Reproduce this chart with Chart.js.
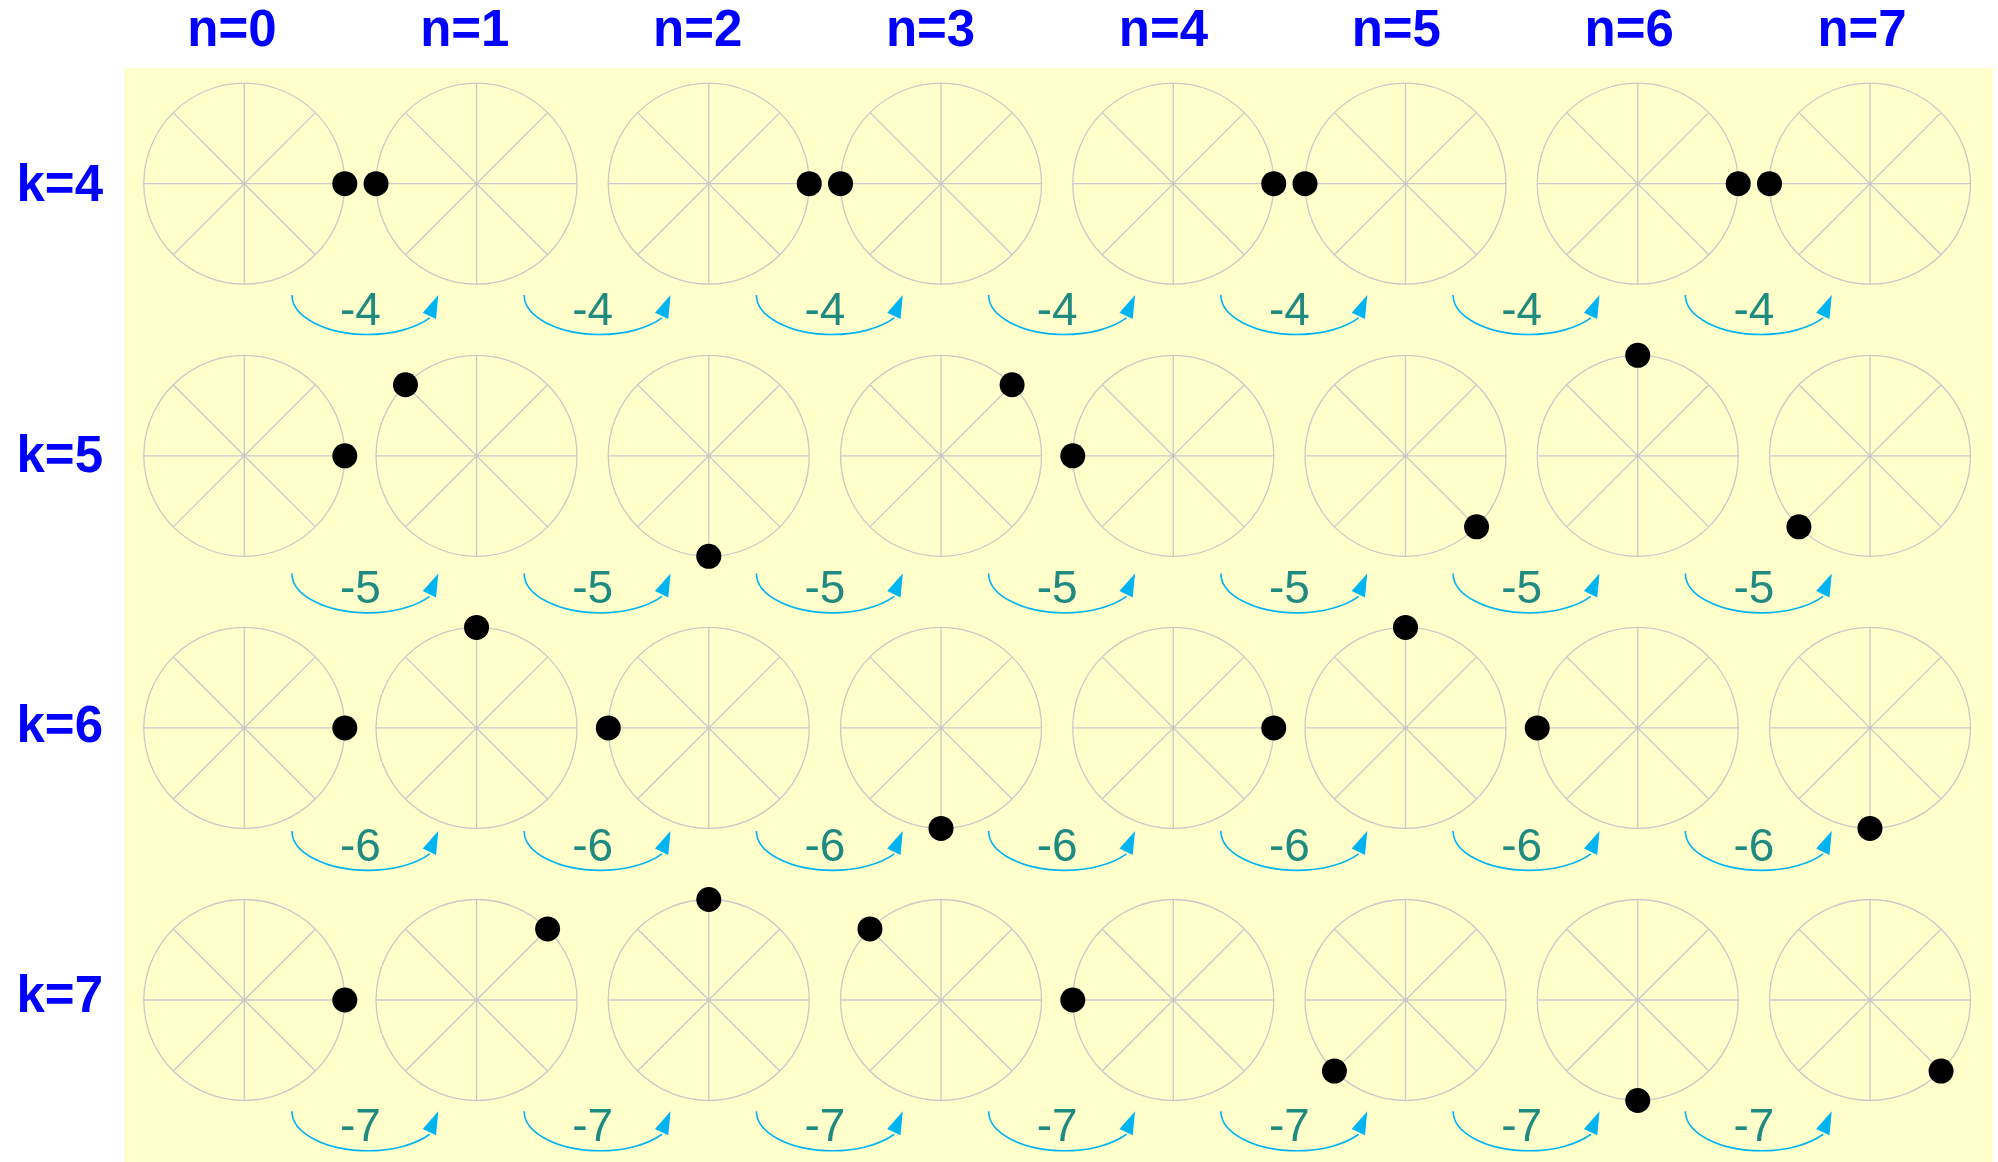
<!DOCTYPE html>
<html>
<head>
<meta charset="utf-8">
<title>Twiddle factor wheels</title>
<script src="https://cdn.jsdelivr.net/npm/chart.js@4.4.0/dist/chart.umd.min.js"></script>
<style>
  html, body { margin: 0; padding: 0; background: #fff; }
</style>
</head>
<body>
<canvas id="chart" width="1998" height="1162"></canvas>
<script>
// columns (n) and rows (k)
const nValues = [0, 1, 2, 3, 4, 5, 6, 7];
const kValues = [4, 5, 6, 7];

// where the black dot sits on each wheel, degrees counter-clockwise from 3 o'clock
const dotAngleK4 = [0, 180, 0, 180, 0, 180, 0, 180];
const dotAngleK5 = [0, 135, 270, 45, 180, 315, 90, 225];
const dotAngleK6 = [0, 90, 180, 270, 0, 90, 180, 270];
const dotAngleK7 = [0, 45, 90, 135, 180, 225, 270, 315];
const dotAngles = [dotAngleK4, dotAngleK5, dotAngleK6, dotAngleK7];

// text under the arrows, one per row
const stepLabels = ['-4', '-5', '-6', '-7'];

// layout (pixels)
const W = 1998, H = 1162;
const AREA_LEFT = 124, AREA_TOP = 68, AREA_RIGHT_PAD = 5;
const AREA_W = W - AREA_LEFT - AREA_RIGHT_PAD, AREA_H = H - AREA_TOP;
const COL_PITCH = 232.24, ROW_PITCH = 272.1;
const FIRST_COL_PX = 244.3, FIRST_ROW_PX = 183.7;
const RING_PX = 100.5, DOT_PX = 12.5;
// headers sit a little off the wheel grid
const HEAD_FIRST_PX = 231.9, HEAD_PITCH = 232.875;
const ROWLAB_FIRST_PX = 187.2, ROWLAB_PITCH = 270.27;
// the arrow rows are not quite evenly placed under the wheels
const ARROW_ROW_SHIFT = [0, 6.3, -8.3, 0];

function axisRange(firstPx, pitch, areaStart, areaLen, firstVal) {
  const min = firstVal - (firstPx - areaStart) / pitch;
  return { min: min, max: min + areaLen / pitch };
}

const xr = axisRange(FIRST_COL_PX, COL_PITCH, AREA_LEFT, AREA_W, nValues[0]);
const yr = axisRange(FIRST_ROW_PX, ROW_PITCH, AREA_TOP, AREA_H, kValues[0]);
const xnr = axisRange(HEAD_FIRST_PX, HEAD_PITCH, AREA_LEFT, AREA_W, nValues[0]);
const ykr = axisRange(ROWLAB_FIRST_PX, ROWLAB_PITCH, AREA_TOP, AREA_H, kValues[0]);

// wheel centres and dots
const wheelCentres = [];
const dotPoints = [];
kValues.forEach((k, ri) => {
  nValues.forEach((n, ci) => {
    wheelCentres.push({ x: n, y: k });
    const a = dotAngles[ri][ci] * Math.PI / 180;
    dotPoints.push({
      x: n + RING_PX * Math.cos(a) / COL_PITCH,
      y: k - RING_PX * Math.sin(a) / ROW_PITCH
    });
  });
});

const FONT = "'Liberation Sans', Arial, sans-serif";
const WHEEL_GREY = '#c9c9c9';

// label axes must not push the plot area around
function noLabelPadding(s) {
  s.paddingLeft = 0;
  s.paddingRight = 0;
  s.paddingTop = 0;
  s.paddingBottom = 0;
}

const backdrop = {
  id: 'backdrop',
  beforeDraw(chart) {
    const { ctx, chartArea: a } = chart;
    ctx.save();
    ctx.fillStyle = '#ffffcc';
    ctx.fillRect(a.left, a.top, a.right - a.left, a.bottom - a.top);
    ctx.restore();
  }
};

// curved arrows with the step value between neighbouring wheels
const arrows = {
  id: 'arrows',
  beforeDatasetsDraw(chart) {
    const ctx = chart.ctx;
    const sx = chart.scales.x, sy = chart.scales.y;
    ctx.save();
    kValues.forEach((k, ri) => {
      const cy = sy.getPixelForValue(k) + ARROW_ROW_SHIFT[ri];
      for (let i = 0; i < nValues.length - 1; i++) {
        const mx = (sx.getPixelForValue(nValues[i]) + sx.getPixelForValue(nValues[i + 1])) / 2;
        ctx.strokeStyle = '#00b4f2';
        ctx.fillStyle = '#00b4f2';
        ctx.lineWidth = 1.6;
        ctx.beginPath();
        ctx.ellipse(mx + 7.5, cy + 111.3, 76, 39.5, 0, Math.PI, 0.62, true);
        ctx.stroke();
        ctx.beginPath();
        ctx.moveTo(mx + 77.9, cy + 111.3);
        ctx.lineTo(mx + 62.3, cy + 129);
        ctx.lineTo(mx + 75.6, cy + 135.3);
        ctx.closePath();
        ctx.fill();

        ctx.fillStyle = '#1f8a80';
        ctx.font = '46px ' + FONT;
        ctx.textAlign = 'center';
        ctx.textBaseline = 'alphabetic';
        ctx.fillText(stepLabels[ri], mx, cy + 141.3);
      }
    });
    ctx.restore();
  }
};

new Chart(document.getElementById('chart'), {
  type: 'scatter',
  data: {
    datasets: [
      {
        label: 'dots',
        data: dotPoints,
        pointStyle: 'circle',
        pointRadius: DOT_PX,
        pointBackgroundColor: '#000',
        pointBorderWidth: 0,
        clip: false
      },
      {
        label: 'spokes',
        data: wheelCentres,
        pointStyle: 'star',
        pointRadius: RING_PX,
        pointBackgroundColor: 'rgba(0,0,0,0)',
        pointBorderColor: WHEEL_GREY,
        pointBorderWidth: 1.3,
        clip: false
      },
      {
        label: 'rings',
        data: wheelCentres,
        pointStyle: 'circle',
        pointRadius: RING_PX,
        pointBackgroundColor: 'rgba(0,0,0,0)',
        pointBorderColor: WHEEL_GREY,
        pointBorderWidth: 1.3,
        clip: false
      }
    ]
  },
  options: {
    responsive: false,
    animation: false,
    devicePixelRatio: 1,
    events: [],
    layout: { autoPadding: false, padding: { left: 0, top: 0, right: AREA_RIGHT_PAD, bottom: 0 } },
    plugins: { legend: { display: false }, tooltip: { enabled: false } },
    scales: {
      x: { type: 'linear', display: false, min: xr.min, max: xr.max },
      y: { type: 'linear', display: false, reverse: true, min: yr.min, max: yr.max },
      xn: {
        type: 'linear',
        axis: 'x',
        position: 'top',
        min: xnr.min,
        max: xnr.max,
        grid: { display: false, drawTicks: false },
        border: { display: false },
        afterBuildTicks: s => { s.ticks = nValues.map(v => ({ value: v })); },
        afterFit: s => { s.height = AREA_TOP; noLabelPadding(s); },
        ticks: {
          autoSkip: false,
          maxRotation: 0,
          padding: 5,
          color: '#0000ff',
          font: { family: FONT, size: 51, weight: 'bold' },
          callback: v => 'n=' + v
        }
      },
      yk: {
        type: 'linear',
        axis: 'y',
        position: 'left',
        reverse: true,
        min: ykr.min,
        max: ykr.max,
        grid: { display: false, drawTicks: false },
        border: { display: false },
        afterBuildTicks: s => { s.ticks = kValues.map(v => ({ value: v })); },
        afterFit: s => { s.width = AREA_LEFT; noLabelPadding(s); },
        ticks: {
          autoSkip: false,
          padding: 21,
          color: '#0000ff',
          font: { family: FONT, size: 51, weight: 'bold' },
          callback: v => 'k=' + v
        }
      }
    }
  },
  plugins: [backdrop, arrows]
});
</script>
</body>
</html>
